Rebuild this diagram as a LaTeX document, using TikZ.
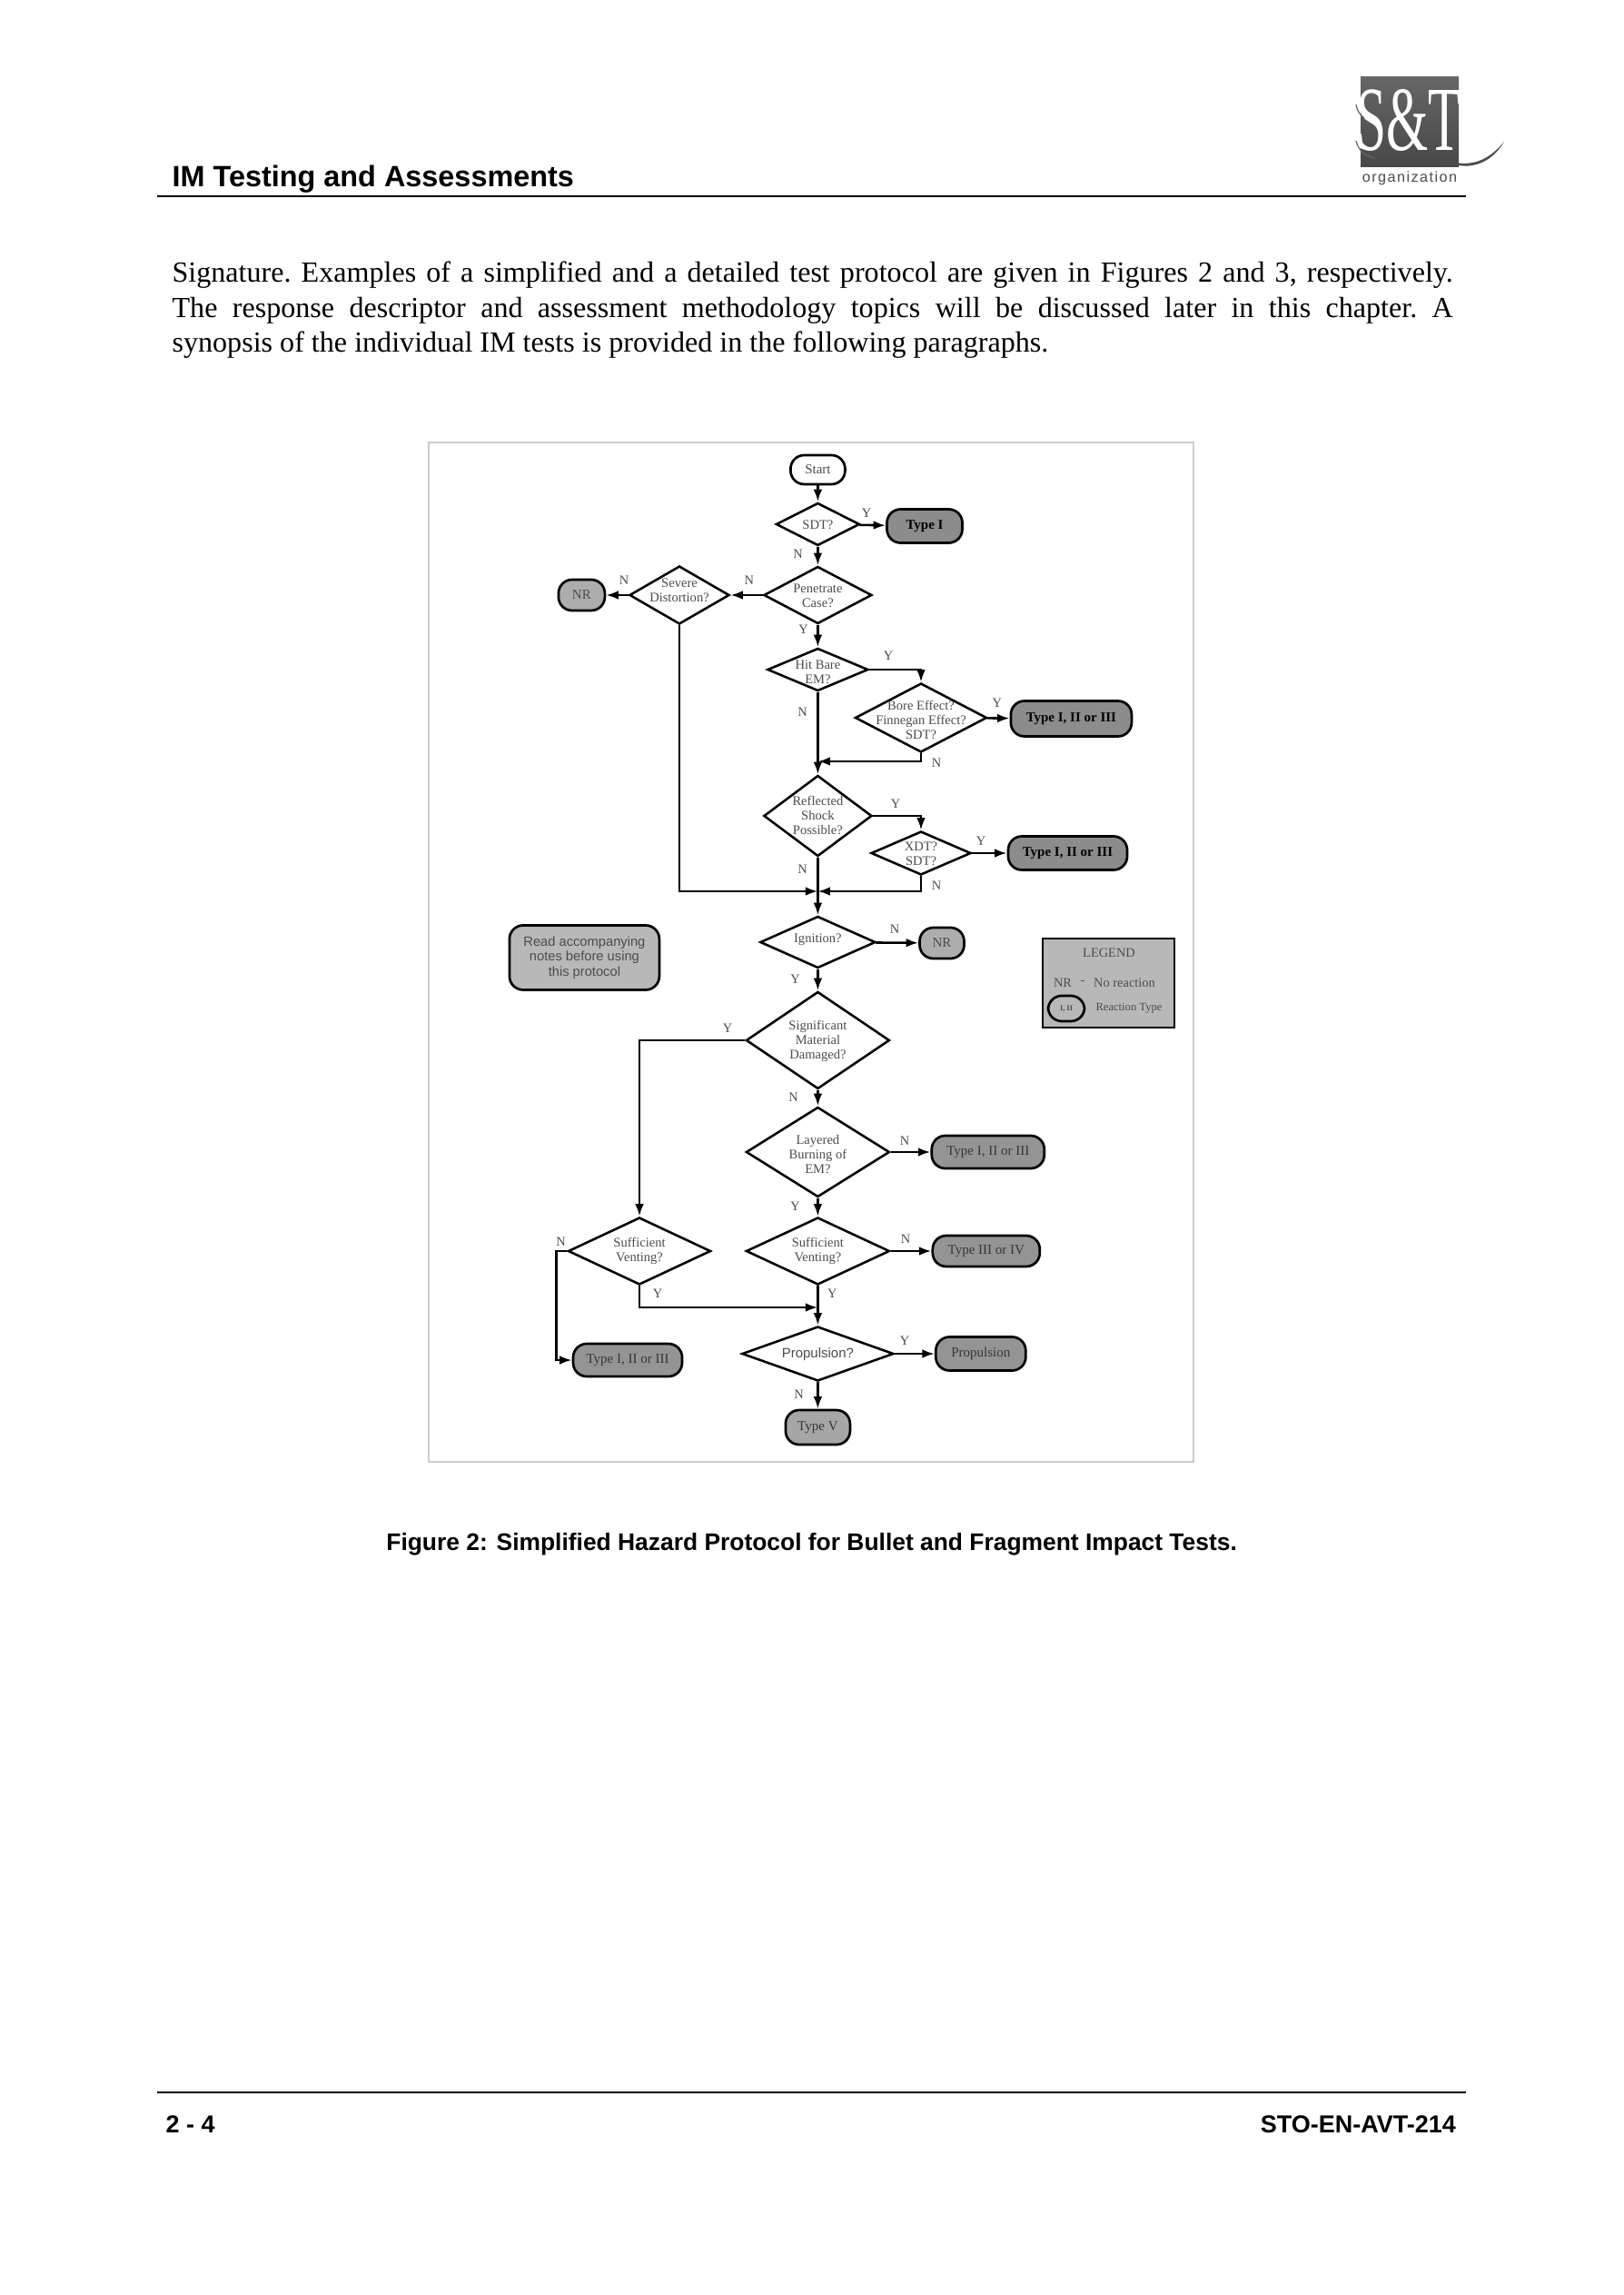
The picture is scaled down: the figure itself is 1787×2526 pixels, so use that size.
\documentclass[tikz,border=0pt]{standalone}
\usepackage{fontspec}
\setmainfont{Liberation Serif}
\setsansfont{Liberation Sans}
\newfontfamily\logofont[LetterSpace=9]{Liberation Sans}
\usetikzlibrary{shapes.geometric}
\usetikzlibrary{arrows.meta}
\newcommand{\dtext}[2][1.9pt]{\makebox[0pt]{\smash{\raisebox{-#1}{\begin{tabular}{@{}c@{}}#2\end{tabular}}}}}
\newcommand{\fullline}[1]{\makebox[470pt][s]{#1}}
\definecolor{txtgray}{gray}{0.3}
\tikzset{
    dia/.style 2 args={diamond,draw=black,line width=0.85pt,inner sep=0pt,minimum width=#1*0.3333pt,minimum height=#2*0.3333pt,text=txtgray,font=\fontsize{4.85}{5.4}\selectfont},
    term/.style n args={3}{draw=black,line width=0.9pt,rounded corners=5pt,inner sep=0pt,minimum width=#1*0.3333pt,minimum height=#2*0.3333pt,fill=black!#3,font=\fontsize{5}{5.4}\selectfont},
    arr/.style={-{Latex[length=4.5pt,width=3.2pt]},line width=0.85pt},
    lbl/.style={inner sep=0pt,text=txtgray,font=\fontsize{4.8}{5}\selectfont},
    hdr/.style={inner sep=0pt,font=\sffamily\bfseries}
}
\begin{document}
\begin{tikzpicture}[x=0.3333pt,y=-0.3333pt]
    \useasboundingbox (0,0) rectangle (1787,2526);
    \fill[white] (0,0) rectangle (1787,2526);
    % page header
    \shade[top color=black!60,bottom color=black!72] (1498,85) rectangle (1606,184);
    \node[inner sep=0pt,text=white,font=\fontsize{30}{30}\selectfont] (logotxt) at (1551,132) {\scalebox{0.66}[1.12]{S\&T}};
    \fill[black!70] (1585,174) .. controls (1620,188) and (1640,175) .. (1656,156) .. controls (1642,180) and (1615,192) .. (1585,174);
    \draw[black!60,line width=0.4pt] (1493,115) .. controls (1494,122) and (1497,126) .. (1502,130);
    \draw[black!60,line width=0.4pt] (1493,155) .. controls (1495,165) and (1503,172) .. (1514,174);
    \node[inner sep=0pt,text=black!70,font=\logofont\fontsize{5.4}{6}\selectfont] (logoorg) at (1552,196) {organization};
    \node[hdr,anchor=base west,font=\sffamily\bfseries\fontsize{10.8}{12}\selectfont] (head) at (189,206) {IM Testing and Assessments};
    \draw[line width=0.7pt] (173,216) -- (1614,216);
    \node[anchor=north west,inner sep=0pt,align=left,font=\frenchspacing\fontsize{10.7}{12.95}\selectfont] (body) at (189,287) {\fullline{Signature. Examples of a simplified and a detailed test protocol are given in Figures 2 and 3, respectively.}\\ \fullline{The response descriptor and assessment methodology topics will be discussed later in this chapter. A}\\ synopsis of the individual IM tests is provided in the following paragraphs.};
    % figure frame
    \draw[black!20,line width=0.6pt] (472,487) rectangle (1314,1609);
    % terminals
    \node[term={60}{32}{0},text=txtgray] (start) at (900.4,517) {Start};
    \node[term={83}{37}{45},font=\fontsize{5}{5.4}\selectfont\bfseries] (typei) at (1018,579) {Type I};
    \node[term={51}{34}{32},text=txtgray] (nra) at (640.4,655) {NR};
    \node[term={133}{39}{45},font=\fontsize{5}{5.4}\selectfont\bfseries] (typea) at (1179.4,791) {Type I, II or III};
    \node[term={131}{37}{45},font=\fontsize{5}{5.4}\selectfont\bfseries] (typeb) at (1175.5,939) {Type I, II or III};
    \node[term={49}{34}{32},text=txtgray] (nrb) at (1037,1038) {NR};
    \node[term={124}{36}{42},text=txtgray!70!black] (typec) at (1087.8,1268) {Type I, II or III};
    \node[term={118}{34}{42},text=txtgray!70!black] (typed) at (1085.8,1377) {Type III or IV};
    \node[term={99}{37}{42},text=txtgray!70!black] (propbox) at (1079.8,1490) {Propulsion};
    \node[term={71}{38}{35},text=txtgray!70!black] (typev) at (900.4,1571) {Type V};
    \node[term={120}{36}{42},text=txtgray!70!black] (typee) at (691,1497) {Type I, II or III};
    \node[term={165}{71}{28},align=center,text=txtgray,font=\sffamily\fontsize{4.9}{5.4}\selectfont] (note) at (643.4,1054) {Read accompanying\\notes before using\\this protocol};
    % decisions
    \node[dia={92}{47}] (sdt) at (900.4,577) {\dtext[2.1pt]{SDT?}};
    \node[dia={119}{63}] (pen) at (900.4,655) {\dtext{Penetrate\\Case?}};
    \node[dia={110}{64}] (sev) at (748,655) {\dtext[0pt]{Severe\\Distortion?}};
    \node[dia={111}{47}] (hit) at (900.4,737) {\dtext[2.7pt]{Hit Bare\\EM?}};
    \node[dia={145}{76}] (bore) at (1014,790) {\dtext[2.7pt]{Bore Effect?\\Finnegan Effect?\\SDT?}};
    \node[dia={119}{89}] (refl) at (900.4,898) {\dtext[1.6pt]{Reflected\\Shock\\Possible?}};
    \node[dia={110}{48}] (xdt) at (1014,939) {\dtext[2.1pt]{XDT?\\SDT?}};
    \node[dia={127}{57}] (ign) at (900.4,1037) {\dtext[0.5pt]{Ignition?}};
    \node[dia={158}{107}] (sig) at (900.4,1145) {\dtext[1.6pt]{Significant\\Material\\Damaged?}};
    \node[dia={158}{99}] (lay) at (900.4,1268) {\dtext[2.7pt]{Layered\\Burning of\\EM?}};
    \node[dia={158}{74}] (sufr) at (900.4,1377) {\dtext[1.4pt]{Sufficient\\Venting?}};
    \node[dia={157}{74}] (sufl) at (704,1377) {\dtext[1.4pt]{Sufficient\\Venting?}};
    \node[dia={167}{60},font=\sffamily\fontsize{5}{5.4}\selectfont] (prop) at (900.4,1490) {\dtext[1.6pt]{Propulsion?}};
    % junctions
    \coordinate (jbore) at (900.4,838);
    \coordinate (jxdt) at (900.4,981);
    \coordinate (jsuf) at (900.4,1439);
    \coordinate (bendl) at (612.5,1377);
    % connectors
    \draw[arr] (start) -- (sdt);
    \draw[arr] (sdt) -- (typei);
    \draw[arr] (sdt) -- (pen);
    \draw[arr] (pen) -- (sev);
    \draw[arr] (sev) -- (nra);
    \draw[arr] (pen) -- (hit);
    \draw[arr] (hit) -- (refl);
    \draw[arr] (hit.east) -| (bore.north);
    \draw[arr] (bore) -- (typea);
    \draw[arr] (bore.south) |- (jbore);
    \draw[arr] (refl.east) -| (xdt.north);
    \draw[arr] (xdt) -- (typeb);
    \draw[arr] (xdt.south) |- (jxdt);
    \draw[arr] (sev.south) |- (jxdt);
    \draw[arr] (refl) -- (ign);
    \draw[arr] (ign) -- (nrb);
    \draw[arr] (ign) -- (sig);
    \draw[arr] (sig.west) -| (sufl.north);
    \draw[arr] (sig) -- (lay);
    \draw[arr] (lay) -- (typec);
    \draw[arr] (lay) -- (sufr);
    \draw[arr] (sufr) -- (typed);
    \draw[arr] (sufr) -- (prop);
    \draw[arr] (sufl.south) |- (jsuf);
    \draw[arr] (sufl.west) -- (bendl) |- (typee.west);
    \draw[arr] (prop) -- (propbox);
    \draw[arr] (prop) -- (typev);
    % branch labels
    \node[lbl] (ya) at (954,565) {Y};
    \node[lbl] (na) at (878.5,610) {N};
    \node[lbl] (nb) at (824.7,639) {N};
    \node[lbl] (nc) at (687,639) {N};
    \node[lbl] (yb) at (884.5,693) {Y};
    \node[lbl] (yc) at (978,722) {Y};
    \node[lbl] (nd) at (883.5,784) {N};
    \node[lbl] (yd) at (1097.7,774) {Y};
    \node[lbl] (ne) at (1031,840) {N};
    \node[lbl] (ye) at (986,885) {Y};
    \node[lbl] (yf) at (1080,926) {Y};
    \node[lbl] (nf) at (883.5,957) {N};
    \node[lbl] (ng) at (1031,975) {N};
    \node[lbl] (nh) at (985,1023) {N};
    \node[lbl] (yg) at (875.5,1078) {Y};
    \node[lbl] (yh) at (801,1132) {Y};
    \node[lbl] (ni) at (873.5,1208) {N};
    \node[lbl] (nj) at (996,1256) {N};
    \node[lbl] (yi) at (875.5,1328) {Y};
    \node[lbl] (nk) at (997,1364) {N};
    \node[lbl] (nl) at (617.5,1367) {N};
    \node[lbl] (yj) at (724,1424) {Y};
    \node[lbl] (yk) at (916.4,1424) {Y};
    \node[lbl] (yl) at (996,1476) {Y};
    \node[lbl] (nm) at (879.5,1535) {N};
    % legend
    \node[draw=black,line width=0.8pt,fill=black!28,inner sep=0pt,minimum width=145*0.3333pt,minimum height=98*0.3333pt] (legend) at (1220.5,1082) {};
    \node[lbl] (legt) at (1221,1049) {LEGEND};
    \node[lbl] (legnr) at (1170,1082) {NR};
    \node[lbl] (legdash) at (1192,1082) {-};
    \node[lbl] (legno) at (1238,1082) {No reaction};
    \node[term={40}{28}{0},fill=none,font=\fontsize{2.8}{3}\selectfont\bfseries,text=txtgray] (legbox) at (1174,1110) {I, II};
    \node[lbl,font=\fontsize{4.2}{5}\selectfont] (legrt) at (1243,1110) {Reaction Type};
    % caption and footer
    \node[hdr,font=\sffamily\bfseries\fontsize{8.8}{12}\selectfont] (capt) at (893.6,1700) {Figure 2: Simplified Hazard Protocol for Bullet and Fragment Impact Tests.};
    \draw[line width=0.7pt] (173,2303) -- (1614,2303);
    \node[hdr,anchor=base west,font=\sffamily\bfseries\fontsize{9}{12}\selectfont] (pageno) at (182,2347) {2 - 4};
    \node[hdr,anchor=base east,font=\sffamily\bfseries\fontsize{9}{12}\selectfont] (docid) at (1603.5,2347) {STO-EN-AVT-214};
\end{tikzpicture}
\end{document}
